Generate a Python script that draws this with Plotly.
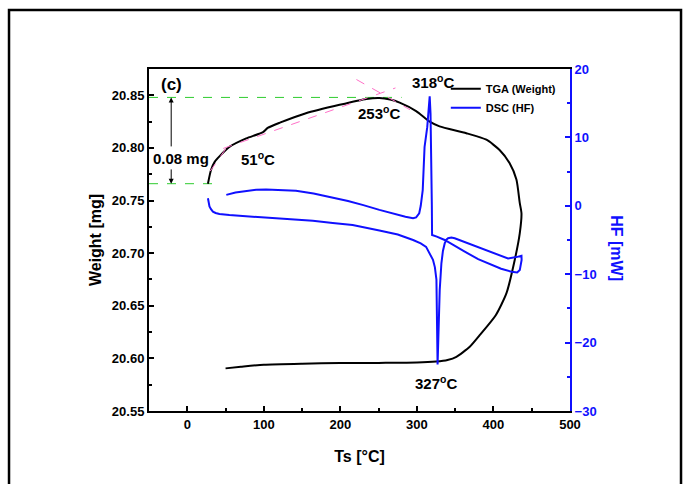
import plotly.graph_objects as go

# ---------------- data ----------------
# TGA (heating then cooling loop), temperature in degC, weight in mg
tga_temp = [27, 31, 36, 42, 55, 77, 99, 105, 121, 155, 199, 234, 251, 265, 277.5, 299,
            316.7, 329.6, 364.6, 390.8, 408, 421, 430, 434.4, 436.6, 434.4, 427.8, 417,
            403, 382, 369, 351.6, 340, 325, 300, 250, 200, 150, 100, 70, 50]
tga_weight = [20.766, 20.779, 20.787, 20.792, 20.801, 20.809, 20.815, 20.819, 20.824, 20.833,
              20.841, 20.8466, 20.8475, 20.846, 20.843, 20.835, 20.825, 20.8205, 20.814,
              20.8078, 20.798, 20.7856, 20.77, 20.7475, 20.738, 20.719, 20.6935, 20.662,
              20.641, 20.622, 20.611, 20.6015, 20.5985, 20.597, 20.596, 20.5957, 20.5955,
              20.595, 20.594, 20.592, 20.5905]

# DSC heat flow (heating then cooling), mW
dsc_temp = [27, 28, 29, 31, 33.5, 37, 42, 55, 77, 103, 135, 164, 190, 216, 251, 275, 295, 305,
            312, 316.7, 321, 323.5, 325.5, 327,
            329.8, 332, 334, 336.3, 338.5, 340.7, 345, 349.4, 360, 375.6, 400, 419, 430, 436.6,
            436.8, 435.7, 434.4, 431, 423.5, 410, 397.4, 380, 362.5, 345, 336.3, 326, 321,
            319.8, 319.5, 318.9, 317.8, 316.7, 315.5, 313.5, 310, 307.6, 305,
            303, 299, 295, 285, 278, 265, 251, 230, 210, 186, 165, 142, 120, 103, 90, 77, 63, 51]
dsc_hf = [1.1, 0.6, -0.1, -0.5, -0.85, -1.05, -1.2, -1.35, -1.5, -1.7, -1.95, -2.2, -2.5, -2.8,
          -3.6, -4.2, -5.0, -5.5,
          -6.0, -6.9, -7.9, -9.0, -10.8, -23.2,
          -12.3, -8.4, -6.6, -5.5, -4.95, -4.75, -4.65, -4.75, -5.2, -5.97, -6.9, -7.7, -7.5, -7.3,
          -7.9, -8.4, -9.4, -9.75, -9.63, -9.2, -8.65, -7.8, -6.7, -5.6, -5.0, -4.5, -4.35,
          -4.27, 0.0, 8.6, 13.5, 16.0, 14.0, 11.5, 8.6, 2.3, 0.0,
          -1.1, -1.7, -1.8, -1.6, -1.4, -1.0, -0.6, 0.1, 0.7, 1.3, 1.8, 2.2, 2.35, 2.4, 2.35, 2.2, 1.95, 1.6]

# tangent construction lines (onset / peak), dashed pink
tan1_x = [30, 55]
tan1_y = [20.778, 20.804]
tan2_x = [47, 272]
tan2_y = [20.7995, 20.857]
tan3_x = [221, 291]
tan3_y = [20.865, 20.8363]

# reference levels for the weight gain
level_hi = 20.848
level_lo = 20.766

x_ticks = [0, 100, 200, 300, 400, 500]
y_ticks = [20.55, 20.60, 20.65, 20.70, 20.75, 20.80, 20.85]
y2_ticks = [-30, -20, -10, 0, 10, 20]

FONT = "Arial, Liberation Sans, sans-serif"
BLUE = "#1010ff"

fig = go.Figure()

# green dashed guide lines
fig.add_trace(go.Scatter(x=[-50, 280], y=[level_hi, level_hi], mode="lines",
                         line=dict(color="#2ecc2e", width=1, dash="dash"),
                         showlegend=False, hoverinfo="skip"))
fig.add_trace(go.Scatter(x=[-50, 38], y=[level_lo, level_lo], mode="lines",
                         line=dict(color="#2ecc2e", width=1, dash="dash"),
                         showlegend=False, hoverinfo="skip"))

fig.add_trace(go.Scatter(x=tga_temp, y=tga_weight, mode="lines", name="TGA (Weight)",
                         line=dict(color="black", width=2, shape="spline", smoothing=0.6)))

for tx, ty in [(tan1_x, tan1_y), (tan2_x, tan2_y), (tan3_x, tan3_y)]:
    fig.add_trace(go.Scatter(x=tx, y=ty, mode="lines",
                             line=dict(color="#ff70c8", width=1, dash="dash"),
                             showlegend=False, hoverinfo="skip"))

fig.add_trace(go.Scatter(x=dsc_temp, y=dsc_hf, mode="lines", name="DSC (HF)", yaxis="y2",
                         line=dict(color=BLUE, width=2)))

axis_font = dict(family=FONT, size=13, color="black", weight="bold")

fig.update_layout(
    width=683, height=484,
    margin=dict(l=149, r=113, t=69, b=73),
    paper_bgcolor="white", plot_bgcolor="white",
    font=dict(family=FONT, color="black"),
    showlegend=True,
    legend=dict(x=0.705, y=0.985, xanchor="left", yanchor="top",
                bgcolor="rgba(0,0,0,0)", font=dict(family=FONT, size=11, weight="bold", color="black"),
                tracegroupgap=0, itemwidth=30),
    xaxis=dict(range=[-50, 500], tickvals=x_ticks, ticks="inside", ticklen=5, tickwidth=1.5,
               tickcolor="black", minor=dict(dtick=50, ticks="inside", ticklen=3, tickcolor="black"),
               showline=True, linecolor="black", linewidth=2, mirror=True,
               showgrid=False, zeroline=False, tickfont=axis_font,
               title=dict(text="Ts [°C]", font=dict(family=FONT, size=16, weight="bold", color="black"),
                          standoff=20)),
    yaxis=dict(range=[20.55, 20.875], tickvals=y_ticks, tickformat=".2f", ticks="inside",
               ticklen=5, tickwidth=1.5, tickcolor="black",
               minor=dict(dtick=0.025, ticks="inside", ticklen=3, tickcolor="black"),
               showline=True, linecolor="black", linewidth=2,
               showgrid=False, zeroline=False, tickfont=axis_font,
               title=dict(text="Weight [mg]", font=dict(family=FONT, size=16, weight="bold", color="black"),
                          standoff=6)),
    yaxis2=dict(range=[-30, 20], tickvals=y2_ticks, overlaying="y", side="right",
                ticks="inside", ticklen=5, tickwidth=1.5, tickcolor=BLUE,
                minor=dict(dtick=5, ticks="inside", ticklen=3, tickcolor=BLUE),
                showline=True, linecolor=BLUE, linewidth=2, showgrid=False, zeroline=False,
                tickfont=dict(family=FONT, size=13, color=BLUE, weight="bold")),
)

# outer frame
fig.add_shape(type="rect", xref="paper", yref="paper", x0=-0.3325, x1=1.2637, y0=-0.3, y1=1.1725,
              line=dict(color="black", width=2.5), fillcolor="rgba(0,0,0,0)", layer="below")

# right axis title (reads top to bottom)
fig.add_annotation(xref="paper", yref="paper", x=1.111, y=0.4766, text="<b>HF [mW]</b>",
                   textangle=90, showarrow=False, xanchor="center", yanchor="middle",
                   font=dict(family=FONT, size=16, color=BLUE))

def label(x, y, txt, size=15, yref="y"):
    fig.add_annotation(x=x, y=y, xref="x", yref=yref, text="<b>" + txt + "</b>", showarrow=False,
                       font=dict(family=FONT, size=size, color="black"))

label(-21, 20.8607, "(c)", 17)
label(93, 20.79, "51<sup>o</sup>C")
label(250, 20.834, "253<sup>o</sup>C")
label(320.7, 20.863, "318<sup>o</sup>C")
label(324.6, 20.577, "327<sup>o</sup>C")
label(-8, 20.7895, "0.08 mg")

# double arrow for weight gain
for tip, tail in [(level_hi, 20.800), (level_lo, 20.781)]:
    fig.add_annotation(x=-21, y=tip, ax=-21, ay=tail, xref="x", yref="y", axref="x", ayref="y",
                       text="", showarrow=True, arrowhead=2, arrowsize=1, arrowwidth=1,
                       arrowcolor="black")

fig.write_html("out.html", config={"displayModeBar": False},
               post_script="document.body.style.margin='0';document.body.style.overflow='hidden';")
